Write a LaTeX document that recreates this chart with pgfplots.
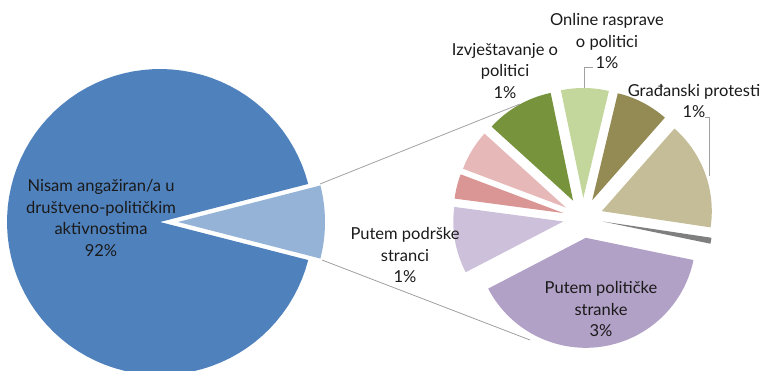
\documentclass[border=0pt]{standalone}
\usepackage{pgfplots}
\pgfplotsset{compat=1.18}
\usepackage{fontspec}
\setmainfont{Lato}

\definecolor{cBlue}{HTML}{4F81BD}
\definecolor{cLBlue}{HTML}{95B3D7}
\definecolor{cTan}{HTML}{C4BD97}
\definecolor{cOlive}{HTML}{948A54}
\definecolor{cLGreen}{HTML}{C3D69B}
\definecolor{cGreen}{HTML}{77933C}
\definecolor{cPink}{HTML}{E6B9B8}
\definecolor{cRed}{HTML}{D99694}
\definecolor{cLav}{HTML}{CCC0DA}
\definecolor{cPurple}{HTML}{B2A1C7}
\definecolor{cGray}{HTML}{7F7F7F}
\definecolor{cLine}{HTML}{A0A0A0}
\definecolor{cText}{HTML}{1A1A1A}

% pie slice: color, cx, cy, r, start angle, end angle, explode distance
\newcommand\pieslice[7]{%
  \pgfmathsetmacro\sliceM{(#5+#6)/2}%
  \pgfmathsetmacro\sliceX{#2+#7*cos(\sliceM)}%
  \pgfmathsetmacro\sliceY{#3-#7*sin(\sliceM)}%
  \edef\doslice{\noexpand\addplot[fill=#1, draw=none, domain=#5:#6, samples=90]
    ({\sliceX+#4*cos(x)}, {\sliceY-#4*sin(x)}) -- (axis cs:\sliceX,\sliceY) -- cycle;}%
  \doslice}

% secondary pie: 8 % of the total shown as 360 degrees
\def\degper{45}
\def\curang{-8.5}
\newcommand\secslice[2]{%
  \pgfmathsetmacro\sA{\curang}%
  \pgfmathsetmacro\sB{\curang+#2*\degper}%
  \pieslice{#1}{583}{218}{110}{\sA}{\sB}{20}%
  \xdef\curang{\sB}}

\newcommand\lbl{\fontsize{16.5}{21.5}\selectfont}

\begin{document}
\begin{tikzpicture}
\begin{axis}[name=ax, hide axis, scale only axis, width=764pt, height=370pt,
  xmin=0, xmax=764, ymin=0, ymax=370, y dir=reverse, clip=true]
% primary pie: 92 % and 8 % (other)
\pieslice{cBlue}{160}{222}{153}{14.4}{345.6}{0}
\pieslice{cLBlue}{160}{222}{147}{-14.4}{14.4}{18}
% secondary pie (values in %)
\secslice{cTan}{1.27}     % Gradanski protesti
\secslice{cOlive}{0.62}
\secslice{cLGreen}{0.56}  % Online rasprave o politici
\secslice{cGreen}{0.80}   % Izvjestavanje o politici
\secslice{cPink}{0.48}
\secslice{cRed}{0.29}
\secslice{cLav}{0.78}     % Putem podrske stranci
\secslice{cPurple}{3.13}  % Putem politicke stranke
\secslice{cGray}{0.07}
% connector lines
\addplot[cLine, line width=0.8pt] coordinates {(320,184) (520,104)};
\addplot[cLine, line width=0.8pt] coordinates {(322,260) (530,340)};
% leader lines
\addplot[cLine, line width=0.8pt] coordinates {(593,67) (584,67) (584,88)};
\addplot[cLine, line width=0.8pt] coordinates {(705,117) (709,117) (709,176)};
% labels
\node[align=center, font=\lbl, text=cText] at (axis cs:101,218) {Nisam angažiran/a u\\društveno-političkim\\aktivnostima\\92\%};
\node[align=center, font=\lbl, text=cText] at (axis cs:607,41) {Online rasprave\\o politici\\1\%};
\node[align=center, font=\lbl, text=cText] at (axis cs:505,71) {Izvještavanje o\\politici\\1\%};
\node[align=center, font=\lbl, text=cText] at (axis cs:694,101) {Građanski protesti\\1\%};
\node[align=center, font=\lbl, text=cText] at (axis cs:405,255) {Putem podrške\\stranci\\1\%};
\node[align=center, font=\lbl, text=cText] at (axis cs:601,309) {Putem političke\\stranke\\3\%};
\end{axis}
\pgfresetboundingbox
\path (ax.south west) rectangle (ax.north east);
\end{tikzpicture}
\end{document}
